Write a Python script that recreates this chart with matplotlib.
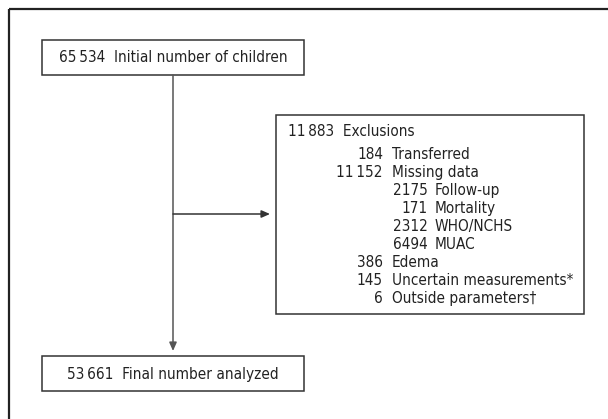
import matplotlib
matplotlib.use("Agg")
import matplotlib.pyplot as plt
from matplotlib import font_manager as fm
from matplotlib.patches import Rectangle

# Flow chart content
initial_n = "65\u2009534"
initial_label = "Initial number of children"
final_n = "53\u2009661"
final_label = "Final number analyzed"
excl_n = "11\u2009883"
excl_label = "Exclusions"

excl_counts = ["184", "11\u2009152", "2175", "171", "2312", "6494", "386", "145", "6"]
excl_labels = ["Transferred", "Missing data", "Follow-up", "Mortality", "WHO/NCHS",
               "MUAC", "Edema", "Uncertain measurements*", "Outside parameters\u2020"]
excl_levels = [1, 1, 2, 2, 2, 2, 1, 1, 1]

# look for a narrow/condensed sans face, else Roboto
font_file = None
for f in fm.fontManager.ttflist:
    if f.style == "normal" and f.weight in (400, "normal", "regular") and (
            "Narrow" in f.name or "Condensed" in f.name or
            str(f.stretch) in ("condensed", "semi-condensed", "500", "semi-expanded") and "Condensed" in f.fname):
        if "Mono" in f.name or "Serif" in f.name:
            continue
        font_file = f.fname
        break

if font_file:
    fp = fm.FontProperties(fname=font_file)
    fs = 11.0
else:
    fp = fm.FontProperties(family=["Roboto", "DejaVu Sans"])
    fs = 9.5

fig = plt.figure(figsize=(6.08, 4.19), dpi=100)
ax = fig.add_axes([0, 0, 1, 1])
ax.set_xlim(0, 608)
ax.set_ylim(419, 0)
ax.axis("off")

edge = "#333333"
tc = "#222222"

# outer frame (only top & left visible)
ax.plot([9, 608], [9, 9], color="#222222", lw=1.6, solid_capstyle="butt")
ax.plot([9, 9], [9, 419], color="#222222", lw=1.6, solid_capstyle="butt")

# top box
ax.add_patch(Rectangle((42, 40), 262, 35, fill=False, ec=edge, lw=1.1))
ax.text(173, 58, f"{initial_n}  {initial_label}", ha="center", va="center",
        fontproperties=fp, fontsize=fs, color=tc)

# bottom box
ax.add_patch(Rectangle((42, 356), 262, 35, fill=False, ec=edge, lw=1.1))
ax.text(173, 374, f"{final_n}  {final_label}", ha="center", va="center",
        fontproperties=fp, fontsize=fs, color=tc)

# exclusions box
ax.add_patch(Rectangle((276, 115), 308, 199, fill=False, ec=edge, lw=1.1))
ax.text(288, 131, f"{excl_n}  {excl_label}", ha="left", va="center",
        fontproperties=fp, fontsize=fs, color=tc)

num_right = {1: 383, 2: 428}
lab_left = {1: 392, 2: 435}
y0, dy = 154, 18.1
for i, (n, lab, lev) in enumerate(zip(excl_counts, excl_labels, excl_levels)):
    y = y0 + i * dy
    ax.text(num_right[lev], y, n, ha="right", va="center", fontproperties=fp, fontsize=fs, color=tc)
    ax.text(lab_left[lev], y, lab, ha="left", va="center", fontproperties=fp, fontsize=fs, color=tc)

# connectors
ax.annotate("", xy=(173, 351), xytext=(173, 75),
            arrowprops=dict(arrowstyle="-|>,head_length=0.5,head_width=0.22", color="#555555", lw=1.1,
                            shrinkA=0, shrinkB=0))
ax.annotate("", xy=(270, 214), xytext=(173, 214),
            arrowprops=dict(arrowstyle="-|>,head_length=0.5,head_width=0.22", color="#333333", lw=1.1,
                            shrinkA=0, shrinkB=0))

fig.savefig("out.png", dpi=100, facecolor="white")
